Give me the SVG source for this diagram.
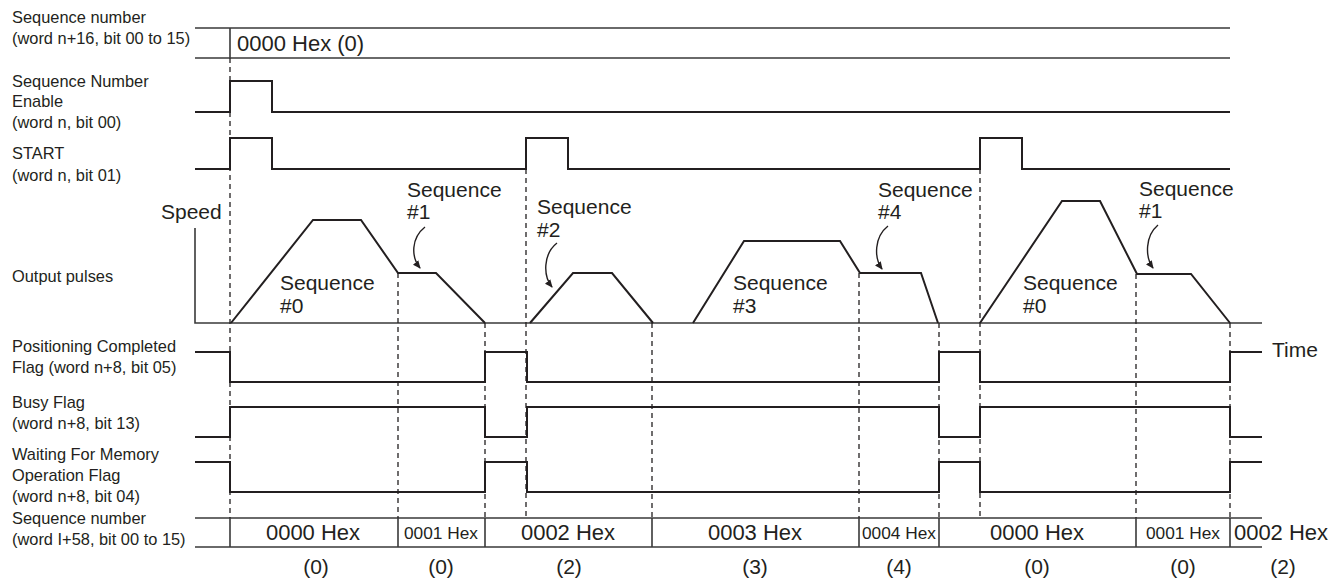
<svg xmlns="http://www.w3.org/2000/svg" width="1332" height="580" viewBox="0 0 1332 580">
<style>
text{font-family:"Liberation Sans",Arial,sans-serif;fill:#231f20}
.lbl{font-size:16.4px}
.big{font-size:21px}
.top{font-size:22px}
.hex{font-size:22px}
.sm{font-size:16px}
.sig{fill:none;stroke:#231f20;stroke-width:2;stroke-linejoin:miter}
.box{fill:none;stroke:#3a3a3a;stroke-width:1.6}
.dash{fill:none;stroke:#231f20;stroke-width:1.3;stroke-dasharray:5 4}
.arr{fill:none;stroke:#231f20;stroke-width:1.4}
</style>
<defs>
<marker id="ah" markerWidth="8" markerHeight="8" refX="7" refY="4" orient="auto" markerUnits="userSpaceOnUse">
<path d="M0,0.5 L8,4 L0,7.5 Z" fill="#231f20"/>
</marker>
</defs>
<rect width="1332" height="580" fill="#fff"/>

<g id="seqnum-top">
<text class="lbl" x="12" y="23">Sequence number</text>
<text class="lbl" x="12" y="44">(word n+16, bit 00 to 15)</text>
<path class="box" d="M195,28 H1230 M195,58 H1230 M230,28 V58"/>
<text class="top" x="237" y="51">0000 Hex (0)</text>
</g>

<g id="seq-enable">
<text class="lbl" x="12" y="87">Sequence Number</text>
<text class="lbl" x="12" y="107">Enable</text>
<text class="lbl" x="12" y="128">(word n, bit 00)</text>
<path class="sig" d="M195,112 H230 V81 H272 V112 H1230"/>
</g>

<g id="start">
<text class="lbl" x="12" y="159">START</text>
<text class="lbl" x="12" y="181">(word n, bit 01)</text>
<path class="sig" d="M195,169 H230 V138 H272 V169 H526 V138 H568 V169 H980 V138 H1022 V169 H1230"/>
</g>

<g id="output-pulses">
<text class="lbl" x="12" y="282">Output pulses</text>
<text class="big" x="161" y="219">Speed</text>
<path class="box" d="M195,228 V323 H1262"/>
<text class="big" x="1272" y="357">Time</text>
<path class="sig" d="M231,323 L313,220 L361,220 L398,273 L436,273 L485,323"/>
<path class="sig" d="M530,323 L573,273 L612,273 L653,323"/>
<path class="sig" d="M693,323 L744,241 L840,241 L860,273 L921,273 L938,323"/>
<path class="sig" d="M980,323 L1062,201 L1100,201 L1137,274 L1191,274 L1230,323"/>
<text class="big" x="280" y="290">Sequence</text>
<text class="big" x="280" y="313">#0</text>
<text class="big" x="407" y="197">Sequence</text>
<text class="big" x="407" y="219">#1</text>
<text class="big" x="537" y="214">Sequence</text>
<text class="big" x="537" y="237">#2</text>
<text class="big" x="733" y="290">Sequence</text>
<text class="big" x="733" y="313">#3</text>
<text class="big" x="878" y="197">Sequence</text>
<text class="big" x="878" y="219">#4</text>
<text class="big" x="1023" y="290">Sequence</text>
<text class="big" x="1023" y="313">#0</text>
<text class="big" x="1139" y="196">Sequence</text>
<text class="big" x="1139" y="218">#1</text>
</g>

<g id="pos-completed">
<text class="lbl" x="12" y="352">Positioning Completed</text>
<text class="lbl" x="12" y="373">Flag (word n+8, bit 05)</text>
<path class="sig" d="M195,352 H230 V382 H485 V352 H527 V382 H939 V352 H980 V382 H1230 V352 H1262"/>
</g>

<g id="busy">
<text class="lbl" x="12" y="408">Busy Flag</text>
<text class="lbl" x="12" y="429">(word n+8, bit 13)</text>
<path class="sig" d="M195,437 H230 V407 H485 V437 H527 V407 H939 V437 H980 V407 H1230 V437 H1262"/>
</g>

<g id="waiting">
<text class="lbl" x="12" y="460">Waiting For Memory</text>
<text class="lbl" x="12" y="481">Operation Flag</text>
<text class="lbl" x="12" y="502">(word n+8, bit 04)</text>
<path class="sig" d="M195,462 H230 V492 H485 V462 H527 V492 H939 V462 H980 V492 H1230 V462 H1262"/>
</g>

<g id="seqnum-bottom">
<text class="lbl" x="12" y="524">Sequence number</text>
<text class="lbl" x="12" y="545">(word I+58, bit 00 to 15)</text>
<path class="box" d="M195,518 H1262 M195,547 H1262 M230,518 V547 M398,518 V547 M485,518 V547 M652,518 V547 M859,518 V547 M939,518 V547 M1136,518 V547 M1230,518 V547"/>
<g text-anchor="middle">
<text class="hex" x="313" y="540">0000 Hex</text>
<text class="sm" x="441" y="539" textLength="74" lengthAdjust="spacingAndGlyphs">0001 Hex</text>
<text class="hex" x="568" y="540">0002 Hex</text>
<text class="hex" x="755" y="540">0003 Hex</text>
<text class="sm" x="899" y="539" textLength="74" lengthAdjust="spacingAndGlyphs">0004 Hex</text>
<text class="hex" x="1037" y="540">0000 Hex</text>
<text class="sm" x="1183" y="539" textLength="74" lengthAdjust="spacingAndGlyphs">0001 Hex</text>
<text class="hex" x="1281" y="540">0002 Hex</text>
<text class="big" x="316" y="574">(0)</text>
<text class="big" x="441" y="574">(0)</text>
<text class="big" x="569" y="574">(2)</text>
<text class="big" x="755" y="574">(3)</text>
<text class="big" x="899" y="574">(4)</text>
<text class="big" x="1037" y="574">(0)</text>
<text class="big" x="1183" y="574">(0)</text>
<text class="big" x="1283" y="574">(2)</text>
</g>
</g>

<g id="connectors">
<path class="dash" d="M230,58 V518 M398,273 V518 M485,323 V518 M526,169 V518 M652,323 V518 M859,273 V518 M939,323 V518 M980,169 V518 M1136,274 V518 M1230,323 V518"/>
<path class="arr" marker-end="url(#ah)" d="M425,227 C411,238 411,257 420,268"/>
<path class="arr" marker-end="url(#ah)" d="M557,243 C543,254 543,276 552,287"/>
<path class="arr" marker-end="url(#ah)" d="M888,226 C874,237 874,258 882,269"/>
<path class="arr" marker-end="url(#ah)" d="M1158,225 C1145,236 1145,257 1153,268"/>
</g>
</svg>
